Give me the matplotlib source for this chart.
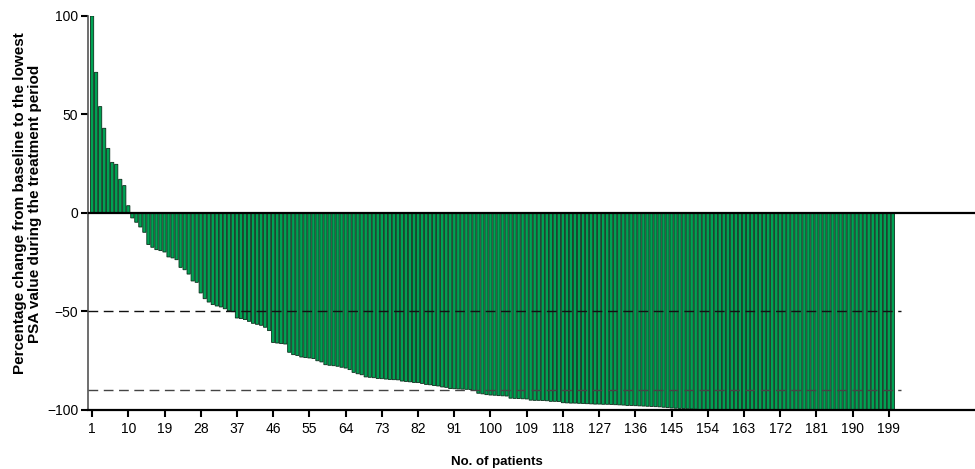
import matplotlib.pyplot as plt

plt.rcParams['font.family'] = ['Liberation Sans', 'DejaVu Sans']

# best percentage change in PSA per patient, sorted (waterfall)
pct_change = [
    100, 71.4, 54, 43, 32.8, 25.7, 24.7, 17.1, 13.9, 3.7,
    -2.5, -4.7, -7.1, -9.8, -16, -17.4, -18.6, -19.1, -19.8, -22.3,
    -22.8, -23.7, -27.6, -28.8, -31, -34.5, -35.2, -40.6, -43.5, -45.2,
    -46.5, -47.2, -47.7, -48.6, -49.6, -50.1, -53.3, -53.6, -54.1, -55,
    -56, -56.5, -57, -58, -59.7, -65.7, -66, -66.3, -66.5, -70.7,
    -71.9, -72.3, -73.1, -73.4, -73.6, -73.9, -75, -75.6, -77, -77.3,
    -77.5, -77.8, -78.3, -78.7, -79.5, -80.9, -81.6, -82.1, -83.2, -83.4,
    -83.6, -84.0, -84.1, -84.3, -84.5, -84.6, -84.7, -85.3, -85.5, -85.7,
    -86.0, -86.1, -86.5, -87.0, -87.2, -87.6, -87.8, -88.3, -88.5, -89.1,
    -89.2, -89.3, -89.4, -89.5, -89.6, -90.1, -91.5, -91.8, -92.2, -92.4,
    -92.5, -92.7, -92.8, -92.9, -94.0, -94.1, -94.2, -94.3, -94.4, -95.0,
    -95.1, -95.1, -95.2, -95.3, -95.6, -95.6, -95.7, -96.3, -96.4, -96.5,
    -96.5, -96.6, -96.7, -96.8, -96.9, -97.0, -97.0, -97.1, -97.1, -97.2,
    -97.3, -97.4, -97.5, -97.7, -97.7, -97.8, -97.9, -98.0, -98.1, -98.2,
    -98.3, -98.4, -98.6, -98.8, -99.0, -99.1, -99.2, -99.3, -99.4, -99.5,
    -99.6, -99.7, -99.8, -99.9,
] + [-100] * 46
patients = list(range(1, len(pct_change) + 1))
xtick_vals = list(range(1, 200, 9))
ytick_vals = [-100, -50, 0, 50, 100]
ref_lines = [-50, -90]

fig = plt.figure(figsize=(9.75, 4.69), dpi=100)
ax = fig.add_axes([0.0903, 0.1258, 0.9097, 0.8401])

bars = ax.bar(patients, pct_change, width=0.8, color='#00a253',
              edgecolor='#0b2e1c', linewidth=0.6, zorder=2)
for b in bars:
    b.set_snap(False)   # avoids bands from pixel snapping of the thin bars

# response thresholds
for y, c in zip(ref_lines, ['#111111', '#444444']):
    ax.plot([0, 202], [y, y], color=c, lw=1.0, ls=(0, (7, 4)), zorder=3)

ax.axhline(0, color='black', lw=1.6, zorder=4)

ax.set_xlim(0, 220.4)
ax.set_ylim(-100, 100)
ax.set_xticks(xtick_vals)
ax.set_yticks(ytick_vals)

ax.spines['top'].set_visible(False)
ax.spines['right'].set_visible(False)
ax.spines['left'].set_color('#555555')
ax.spines['left'].set_linewidth(1.2)
ax.spines['bottom'].set_linewidth(1.6)
ax.spines['bottom'].set_zorder(5)

ax.tick_params(axis='both', direction='out', length=5, width=1.5,
               labelsize=10, colors='black')
ax.tick_params(axis='x', pad=4)
ax.tick_params(axis='y', pad=2)

fig.text(0.028, 0.566,
         'Percentage change from baseline to the lowest\nPSA value during the treatment period',
         rotation=90, ha='center', va='center', fontsize=11,
         fontweight='bold', multialignment='center', linespacing=1.1)
fig.text(497 / 975, 1 - 462 / 469, 'No. of patients', ha='center',
         va='center', fontsize=9.5, fontweight='bold')

fig.savefig('out.png', dpi=100)
